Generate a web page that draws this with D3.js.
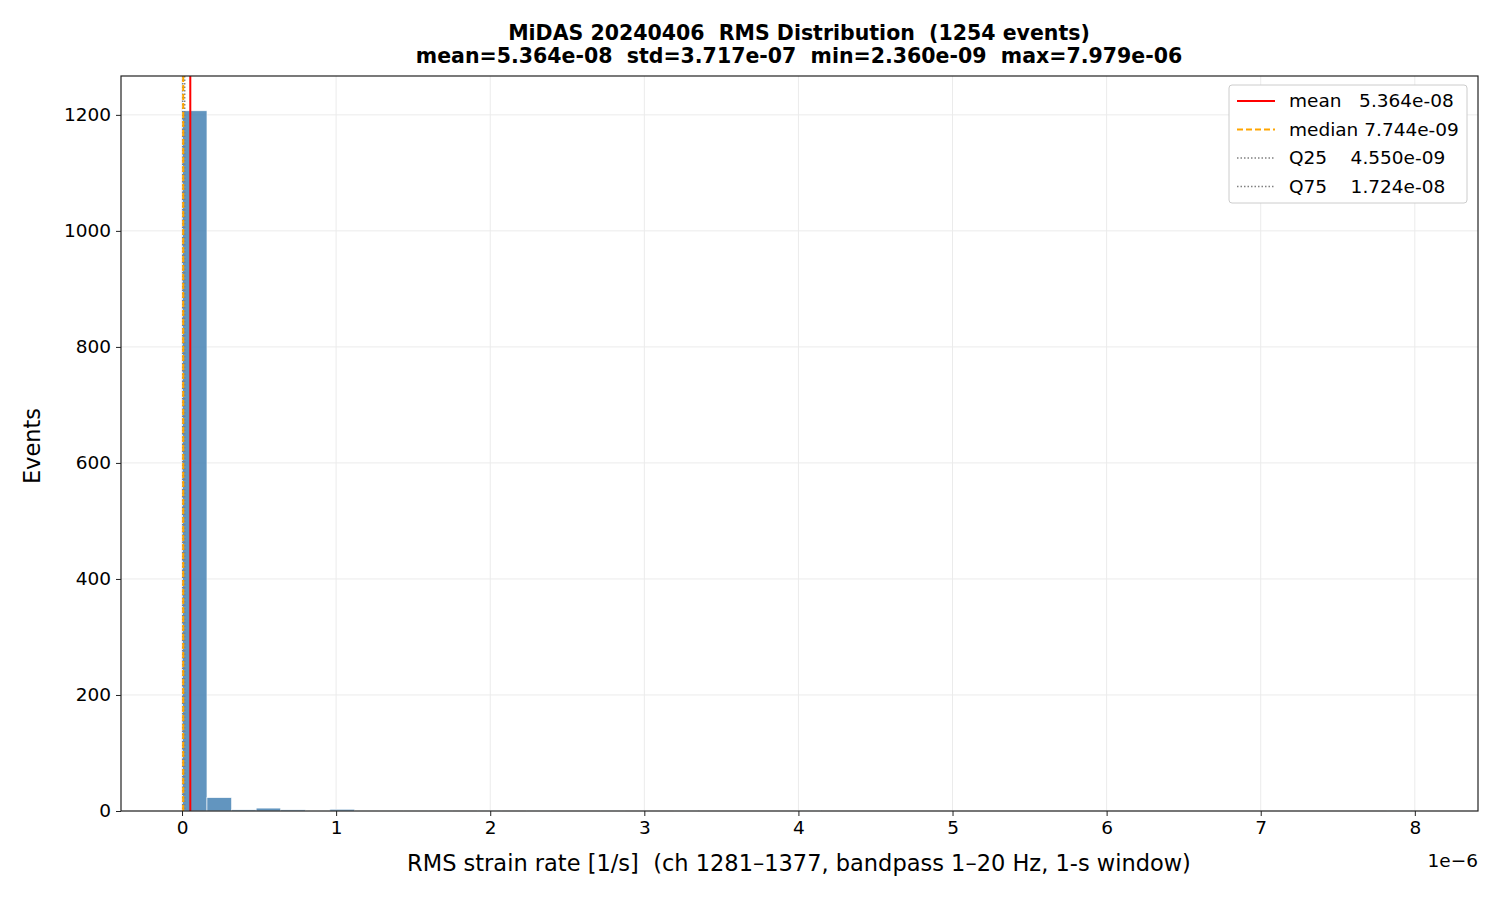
<!DOCTYPE html>
<html><head><meta charset="utf-8">
<script src="https://cdn.jsdelivr.net/npm/d3@7"></script>
<style>body{margin:0;background:#fff}svg text{font-family:"DejaVu Sans",sans-serif;white-space:pre}</style>
</head><body><svg id="c" width="1500" height="900"></svg>
<script>
var binMin = 2.360e-9, binMax = 7.979e-6;
var counts = [1207, 23, 2, 5, 2, 1, 3, 1, 1, 1, 1, 0, 1, 0, 1, 0, 0, 1, 0, 0, 1, 0, 0, 0, 0, 1, 0, 0, 0, 0,
              0, 0, 0, 0, 0, 0, 0, 0, 0, 0, 0, 0, 0, 0, 0, 0, 0, 0, 0, 1];
var stats = [
    {name: "mean", val: 5.364e-08, color: "red", dash: null, w: 2},
    {name: "median", val: 7.744e-09, color: "orange", dash: "6,3", w: 2},
    {name: "Q25", val: 4.550e-09, color: "gray", dash: "1.5,2", w: 1.5},
    {name: "Q75", val: 1.724e-08, color: "gray", dash: "1.5,2", w: 1.5}
];
var legendLabels = ["mean   5.364e-08", "median 7.744e-09", "Q25    4.550e-09", "Q75    1.724e-08"];
var xTicks = [0, 1, 2, 3, 4, 5, 6, 7, 8];
var yTicks = [0, 200, 400, 600, 800, 1000, 1200];

var svg = d3.select("#c"),
    L = 121, R = 1478, T = 76, B = 811,
    bw = (binMax - binMin) / counts.length,
    x = d3.scaleLinear().domain([-0.396e-6, 8.41e-6]).range([L, R]),
    y = d3.scaleLinear().domain([0, 1267]).range([B, T]);

svg.append("g").selectAll("line").data(xTicks).join("line")
    .attr("x1", d => x(d * 1e-6)).attr("x2", d => x(d * 1e-6))
    .attr("y1", T).attr("y2", B).attr("stroke", "#ebebeb");
svg.append("g").selectAll("line").data(yTicks).join("line")
    .attr("y1", d => y(d)).attr("y2", d => y(d))
    .attr("x1", L).attr("x2", R).attr("stroke", "#ebebeb");

svg.append("g").selectAll("rect").data(counts).join("rect")
    .attr("x", (d, i) => x(binMin + i * bw))
    .attr("width", x(bw) - x(0))
    .attr("y", d => y(d)).attr("height", d => B - y(d))
    .attr("fill", "#4682b4").attr("fill-opacity", 0.85)
    .attr("stroke", "#fff").attr("stroke-width", 0.6);

svg.append("g").selectAll("line").data(stats.slice().reverse()).join("line")
    .attr("x1", d => x(d.val)).attr("x2", d => x(d.val))
    .attr("y1", T).attr("y2", B)
    .attr("stroke", d => d.color).attr("stroke-width", d => d.w)
    .attr("stroke-dasharray", d => d.dash);

svg.append("g").attr("transform", "translate(0," + B + ")")
    .call(d3.axisBottom(x).tickValues(xTicks.map(d => d * 1e-6)).tickFormat((d, i) => xTicks[i]).tickSize(5).tickPadding(5))
    .call(g => g.selectAll("text").style("font-size", "18.5px").attr("fill", "#000"));
svg.append("g").attr("transform", "translate(" + L + ",0)")
    .call(d3.axisLeft(y).tickValues(yTicks).tickFormat(d3.format("d")).tickSize(5).tickPadding(5))
    .call(g => g.selectAll("text").style("font-size", "18.5px").attr("fill", "#000"));
svg.selectAll(".domain").remove();
svg.selectAll(".tick line").attr("stroke", "#222");
svg.append("rect").attr("x", L).attr("y", T).attr("width", R - L).attr("height", B - T)
    .attr("fill", "none").attr("stroke", "#222").attr("stroke-width", 1.2);

svg.append("text").attr("x", R).attr("y", 867).attr("text-anchor", "end").style("font-size", "18.5px").text("1e\u22126");
svg.append("text").attr("x", 799).attr("y", 871).attr("text-anchor", "middle").style("font-size", "22.5px")
    .text("RMS strain rate [1/s]  (ch 1281\u20131377, bandpass 1\u201320 Hz, 1-s window)");
svg.append("text").attr("transform", "translate(40,446) rotate(-90)").attr("text-anchor", "middle")
    .style("font-size", "22.5px").text("Events");
svg.append("text").attr("x", 799).attr("y", 40).attr("text-anchor", "middle").style("font-size", "20.5px")
    .attr("font-weight", "bold").text("MiDAS 20240406  RMS Distribution  (1254 events)");
svg.append("text").attr("x", 799).attr("y", 63).attr("text-anchor", "middle").style("font-size", "20.5px")
    .attr("font-weight", "bold")
    .text("mean=5.364e-08  std=3.717e-07  min=2.360e-09  max=7.979e-06");

var lg = svg.append("g").attr("transform", "translate(1229,85)");
lg.append("rect").attr("width", 238).attr("height", 118).attr("rx", 3)
    .attr("fill", "#fff").attr("stroke", "#ccc");
var item = lg.selectAll("g").data(stats).join("g")
    .attr("transform", (d, i) => "translate(8," + (16 + i * 28.5) + ")");
item.append("line").attr("x1", 0).attr("x2", 38)
    .attr("stroke", d => d.color).attr("stroke-width", d => d.w)
    .attr("stroke-dasharray", d => d.dash);
item.append("text").attr("x", 52).attr("y", 6).style("font-size", "18.5px")
    .text((d, i) => legendLabels[i]);
</script></body></html>
